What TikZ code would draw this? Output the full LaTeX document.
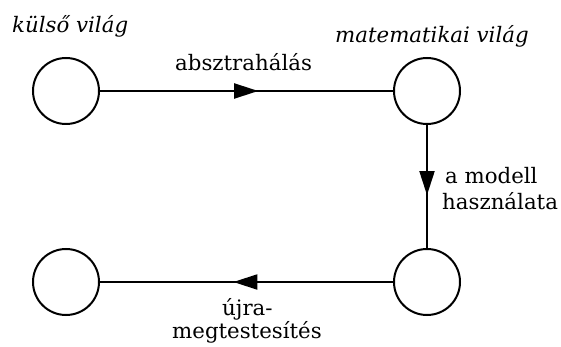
\documentclass[tikz,border=0pt]{standalone}
\usepackage{fontspec}
\setmainfont{DejaVu Serif}
\usetikzlibrary{arrows.meta,decorations.markings}
\tikzset{
  world/.style={circle,draw,line width=2pt,minimum size=66pt,inner sep=0pt},
  midarrow/.style={line width=1.9pt,decoration={markings,mark=at position #1 with {\arrow{Triangle[length=24pt,width=15pt]}}},postaction={decorate}},
  lbl/.style={inner sep=0pt,font=\fontsize{21.3}{25}\selectfont},
  ital/.style={inner sep=0pt,font=\fontsize{21.3}{25}\selectfont\itshape}
}
\begin{document}
\begin{tikzpicture}[x=1pt,y=-1pt]
\useasboundingbox (0,0) rectangle (561,347);
\node[world] (kv) at (66,91) {};
\node[world] (mv) at (427,91) {};
\node[world] (mr) at (427,282) {};
\node[world] (kr) at (66,282) {};
\draw[midarrow=0.54] (kv) -- (mv);
\draw[midarrow=0.57] (mv) -- (mr);
\draw[midarrow=0.545] (mr) -- (kr);
\node[ital,anchor=base west] (t1) at (12,33) {külső világ};
\node[ital,anchor=base west] (t2) at (335,43) {matematikai világ};
\node[lbl,anchor=base west] (t3) at (175,71) {absztrahálás};
\node[lbl,anchor=base west] (t4) at (445,183) {a modell};
\node[lbl,anchor=base west] (t5) at (442,209) {használata};
\node[lbl,anchor=base west] (t6) at (222,315) {újra-};
\node[lbl,anchor=base west] (t7) at (172,338) {megtestesítés};
\end{tikzpicture}
\end{document}
